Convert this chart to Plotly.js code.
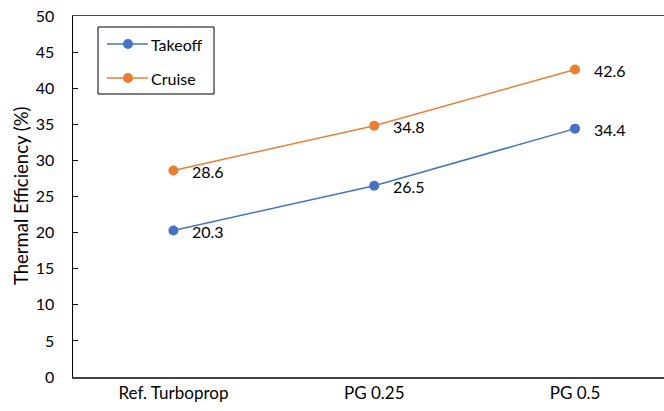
<!DOCTYPE html>
<html><head><meta charset="utf-8">
<script src="https://cdn.plot.ly/plotly-3.0.1.min.js"></script>
<style>html,body{margin:0;padding:0;background:#fff;}</style>
</head><body>
<div id="chart" style="width:664px;height:411px;"></div>
<script>
const categories = ["Ref. Turboprop", "PG 0.25", "PG 0.5"];
const takeoff = [20.3, 26.5, 34.4];
const cruise = [28.6, 34.8, 42.6];
const yTicks = [0, 5, 10, 15, 20, 25, 30, 35, 40, 45, 50];
const seriesNames = ["Takeoff", "Cruise"];
const seriesColors = ["#4472C4", "#ED7D31"];
const yTitle = "Thermal Efficiency (%)";

const font = "Lato, 'Open Sans', sans-serif";
const W = 664, H = 411, L = 73, R = 0, T = 16, B = 34;
const pw = W - L - R, ph = H - T - B;
const px = v => (v - L) / pw;
const py = v => (H - B - v) / ph;

const seriesData = [takeoff, cruise];
const traces = seriesData.map((ys, i) => ({
  x: categories, y: ys, name: seriesNames[i], type: "scatter", mode: "lines+markers",
  line: {color: seriesColors[i], width: 1.5}, marker: {color: seriesColors[i], size: 10},
  showlegend: false
}));

// data labels
const annotations = [];
seriesData.forEach(ys => ys.forEach((v, j) => annotations.push({
  x: categories[j], y: v, xref: "x", yref: "y", text: v.toFixed(1), showarrow: false,
  xanchor: "left", yanchor: "middle", xshift: 17, yshift: -1,
  font: {family: font, size: 16, color: "#000"}
})));

// y axis title
annotations.push({xref: "paper", yref: "paper", x: px(21), y: py(196), text: yTitle,
  textangle: -90, showarrow: false, xanchor: "center", yanchor: "middle",
  font: {family: font, size: 18.5, color: "#000"}});

// legend (manual, to match box style)
const shapes = [{type: "rect", xref: "paper", yref: "paper",
  x0: px(98), x1: px(214), y0: py(94), y1: py(27),
  line: {color: "#000", width: 1}, fillcolor: "#fff", layer: "above"}];
const legY = [44, 78];
seriesNames.forEach((n, i) => {
  shapes.push({type: "line", xref: "paper", yref: "paper", x0: px(107), x1: px(148),
    y0: py(legY[i]), y1: py(legY[i]), line: {color: seriesColors[i], width: 1.5}, layer: "above"});
  shapes.push({type: "circle", xref: "paper", yref: "paper", x0: px(123), x1: px(133),
    y0: py(legY[i] + 5), y1: py(legY[i] - 5), line: {color: seriesColors[i], width: 0},
    fillcolor: seriesColors[i], layer: "above"});
  annotations.push({xref: "paper", yref: "paper", x: px(149), y: py(legY[i]), text: n,
    showarrow: false, xanchor: "left", yanchor: "middle",
    font: {family: font, size: 16, color: "#000"}});
});

const layout = {
  width: W, height: H,
  margin: {l: L, r: R, t: T, b: B},
  paper_bgcolor: "#fff", plot_bgcolor: "#fff",
  font: {family: font, size: 16, color: "#000"},
  showlegend: false,
  shapes: shapes, annotations: annotations,
  xaxis: {type: "category", range: [-0.5, 2.443], showgrid: false, zeroline: false,
          showline: true, linecolor: "#444", linewidth: 1.5, mirror: true, ticks: "",
          tickfont: {family: font, size: 17, color: "#000"}},
  yaxis: {range: [0, 50], tickvals: yTicks, showgrid: false, zeroline: false,
          showline: true, linecolor: "#000", linewidth: 1.5, ticks: "inside", ticklen: 5,
          tickcolor: "#000", ticklabelstandoff: 14, tickfont: {family: font, size: 16, color: "#000"}}
};
Plotly.newPlot("chart", traces, layout, {displayModeBar: false, staticPlot: true});
</script>
</body></html>
